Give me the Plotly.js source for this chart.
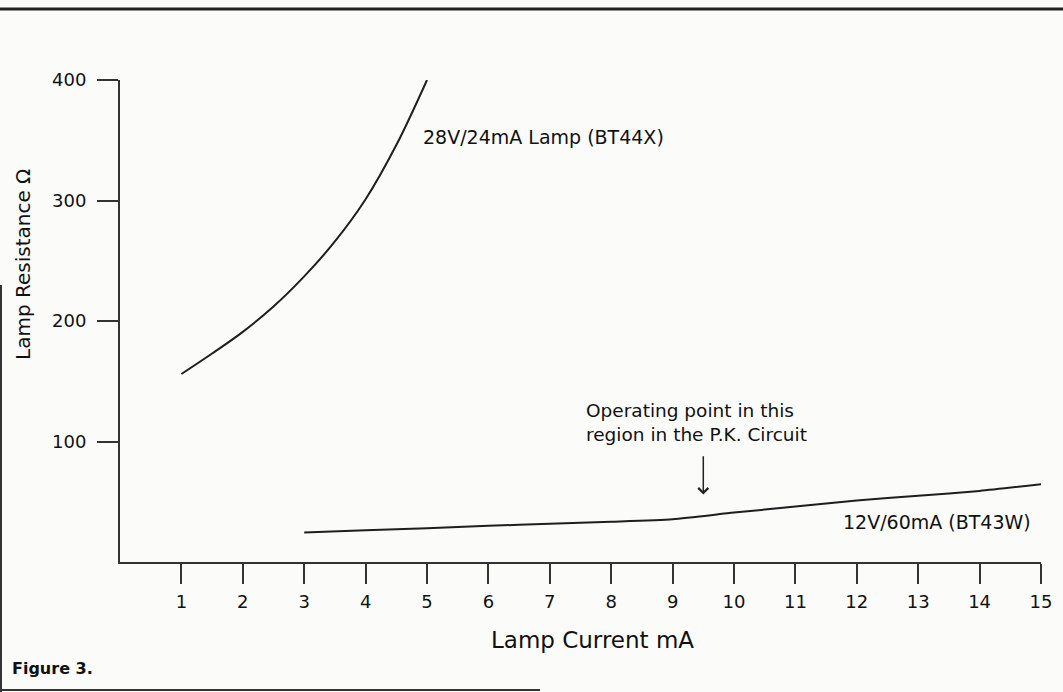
<!DOCTYPE html>
<html>
<head>
<meta charset="utf-8">
<script src="https://cdn.plot.ly/plotly-3.0.1.min.js"></script>
<style>
  html, body { margin: 0; padding: 0; background: #fbfbfa; }
  #chart { width: 1063px; height: 692px; }
</style>
</head>
<body>
<div id="chart"></div>
<script>
// Lamp current (mA) and lamp resistance (ohm)
const lamp28Current = [1, 1.5, 2, 2.5, 3, 3.5, 4, 4.5, 5];
const lamp28Resistance = [156, 173, 191, 212, 237, 266, 301, 346, 400];

const lamp12Current = [3, 4, 5, 6, 7, 8, 9, 10, 11, 12, 13, 14, 15];
const lamp12Resistance = [24.5, 26.3, 28, 30, 31.8, 33.4, 35.5, 41, 46, 51, 55, 59, 64.5];

const xTickValues = [1, 2, 3, 4, 5, 6, 7, 8, 9, 10, 11, 12, 13, 14, 15];
const yTickValues = [100, 200, 300, 400];

const label28 = "28V/24mA Lamp (BT44X)";
const label12 = "12V/60mA (BT43W)";
const operatingNote = "Operating point in this<br>region in the P.K. Circuit";
const xTitle = "Lamp Current mA";
const yTitle = "Lamp Resistance \u03A9";
const figureLabel = "Figure 3.";

const FONT = "DejaVu Sans, Liberation Sans, Arial, sans-serif";
const INK = "#111";

const traces = [
  {
    x: lamp28Current, y: lamp28Resistance, type: "scatter", mode: "lines",
    line: { color: "#1e1e1e", width: 2, shape: "spline", smoothing: 1 },
    name: label28, hoverinfo: "x+y"
  },
  {
    x: lamp12Current, y: lamp12Resistance, type: "scatter", mode: "lines",
    line: { color: "#1e1e1e", width: 2, shape: "spline", smoothing: 0.6 },
    name: label12, hoverinfo: "x+y"
  }
];

const W = 1063, L = 120, R = 22, T = 80, B = 130;
const plotW = W - L - R, plotH = 692 - T - B;
const px = v => (v - L) / plotW;            // pixel x -> paper x
const py = v => (692 - B - v) / plotH;      // pixel y -> paper y

const layout = {
  width: 1063, height: 692,
  margin: { l: L, r: R, t: T, b: B, pad: 0 },
  paper_bgcolor: "#fbfbfa", plot_bgcolor: "#fbfbfa",
  showlegend: false,
  font: { family: FONT, color: INK, size: 18 },
  xaxis: {
    range: [0, 15], tickmode: "array", tickvals: xTickValues,
    ticks: "outside", ticklen: 20, tickwidth: 2, tickcolor: "#333",
    showline: true, linecolor: "#333", linewidth: 2,
    showgrid: false, zeroline: false, ticklabelstandoff: 2,
    tickfont: { family: FONT, size: 18, color: INK }
  },
  yaxis: {
    range: [0, 400], tickmode: "array", tickvals: yTickValues,
    ticks: "outside", ticklen: 21, tickwidth: 2, tickcolor: "#333",
    showline: true, linecolor: "#333", linewidth: 2,
    showgrid: false, zeroline: false, ticklabelstandoff: 7,
    tickfont: { family: FONT, size: 18, color: INK }
  },
  annotations: [
    { xref: "x", yref: "y", x: 4.9, y: 353, text: label28, showarrow: false,
      xanchor: "left", yanchor: "middle", font: { family: FONT, size: 19, color: INK } },
    { xref: "x", yref: "y", x: 7.55, y: 116, text: operatingNote, showarrow: false,
      align: "left", xanchor: "left", yanchor: "middle", font: { family: FONT, size: 18.5, color: INK } },
    { xref: "x", yref: "y", x: 9.5, y: 56, axref: "x", ayref: "y", ax: 9.5, ay: 89,
      text: "", showarrow: true, arrowhead: 4, arrowsize: 1.3, arrowwidth: 1.5,
      arrowcolor: "#222", standoff: 0, startstandoff: 0 },
    { xref: "x", yref: "y", x: 11.75, y: 33, text: label12, showarrow: false,
      xanchor: "left", yanchor: "middle", font: { family: FONT, size: 19, color: INK } },
    { xref: "paper", yref: "paper", x: px(592), y: py(640), text: xTitle, showarrow: false,
      xanchor: "center", yanchor: "middle", font: { family: FONT, size: 23, color: INK } },
    { xref: "paper", yref: "paper", x: px(23), y: py(265), text: yTitle, showarrow: false,
      textangle: -90, xanchor: "center", yanchor: "middle", font: { family: FONT, size: 20, color: INK } },
    { xref: "paper", yref: "paper", x: px(10), y: py(668), text: "<b>" + figureLabel + "</b>", showarrow: false,
      xanchor: "left", yanchor: "middle", font: { family: FONT, size: 16, color: INK } }
  ],
  shapes: [
    { type: "line", xref: "paper", yref: "paper", x0: px(0), x1: px(1063), y0: py(9), y1: py(9),
      line: { color: "#222", width: 3 } },
    { type: "line", xref: "paper", yref: "paper", x0: px(1), x1: px(1), y0: py(285), y1: py(692),
      line: { color: "#333", width: 2 } },
    { type: "line", xref: "paper", yref: "paper", x0: px(0), x1: px(540), y0: py(690), y1: py(690),
      line: { color: "#333", width: 2 } }
  ]
};

Plotly.newPlot("chart", traces, layout, { staticPlot: true, displayModeBar: false });
</script>
</body>
</html>
